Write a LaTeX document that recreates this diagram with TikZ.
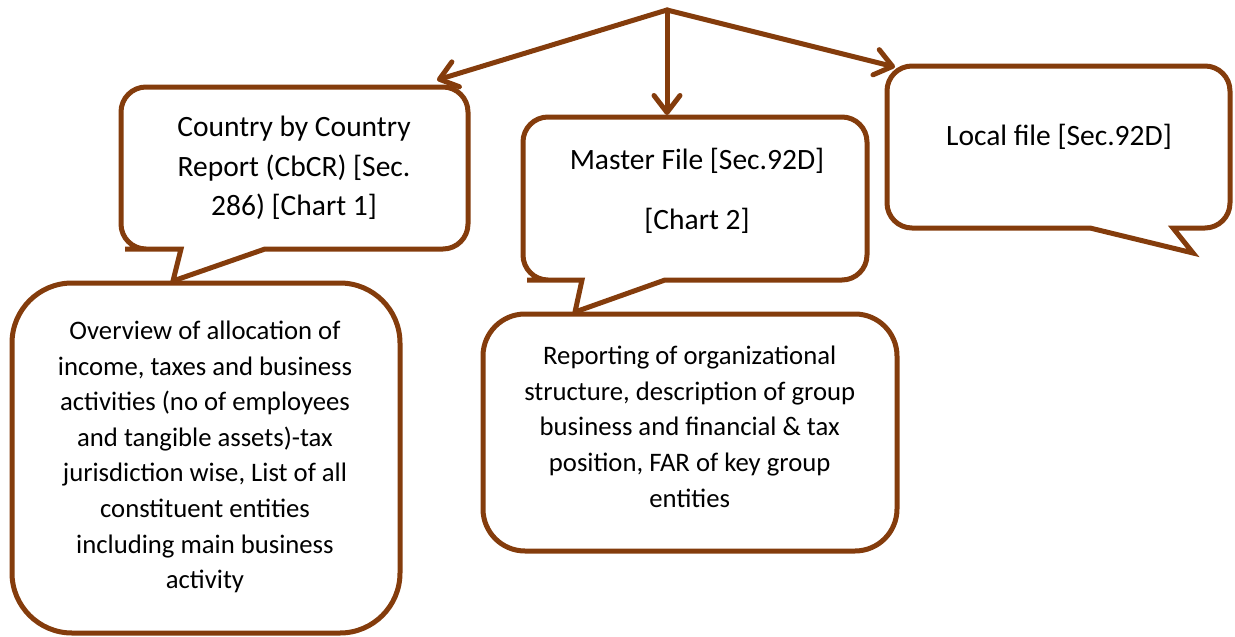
\documentclass[tikz,border=0pt]{standalone}
\usepackage{fontspec}
\setmainfont{Carlito}
\usetikzlibrary{arrows.meta}
\definecolor{brn}{RGB}{132,60,12}
\tikzset{
  shapeline/.style={draw=brn, line width=5pt, fill=white},
  conn/.style={draw=brn, line width=5pt, line cap=round, -{Straight Barb[length=17pt,width=26pt,round]}},
  bigtxt/.style={align=center, anchor=base, font=\fontsize{29.5}{39.5}\selectfont, inner sep=0pt},
  smalltxt/.style={align=center, anchor=base, font=\fontsize{26.7}{35.6}\selectfont, inner sep=0pt}
}
\begin{document}
\begin{tikzpicture}[x=1pt,y=-1pt]
\useasboundingbox (0,0) rectangle (1235,637);
% bottom boxes
\draw[shapeline, rounded corners=60] (12,283) rectangle (400,633);
\draw[shapeline, rounded corners=42] (483,314) rectangle (897,551);
% callout CbCR
\draw[shapeline] (150,249) -- (181,249) -- (173,281) -- (265,249) -- (290,249)
  [rounded corners=25] -- (468,249) -- (468,87) -- (121,87) -- (121,249) -- cycle;
% callout Master
\draw[shapeline] (552,280) -- (582,280) -- (575,312) -- (665,280) -- (690,280)
  [rounded corners=25] -- (867,280) -- (867,117) -- (523,117) -- (523,280) -- cycle;
% callout Local
\draw[shapeline] (1060,228) -- (1090,228) -- (1193,253) -- (1173,228) -- (1180,228)
  [rounded corners=25] -- (1230,228) -- (1230,66) -- (887,66) -- (887,228) -- cycle;
% texts (base anchor = baseline of the last line)
\node[bigtxt] (cbcr) at (294,215.8) {Country by Country\\Report (CbCR) [Sec.\\286) [Chart 1]};
\node[bigtxt] (master) at (697,229) {Master File [Sec.92D]\\[20.5pt]{}[Chart 2]};
\node[bigtxt] (local) at (1059,145) {Local file [Sec.92D]};
\node[smalltxt] (overview) at (205,588.7) {Overview of allocation of\\income, taxes and business\\activities (no of employees\\and tangible assets)-tax\\jurisdiction wise, List of all\\constituent entities\\including main business\\activity};
\node[smalltxt] (reporting) at (689.7,507) {Reporting of organizational\\structure, description of group\\business and financial \& tax\\position, FAR of key group\\entities};
% arrows
\coordinate (src) at (667,10);
\coordinate (tipL) at (437,80);
\coordinate (tipM) at (667,115);
\coordinate (tipR) at (895,67);
\draw[conn] (src) -- (tipL);
\draw[conn] (src) -- (tipM);
\draw[conn] (src) -- (tipR);
\end{tikzpicture}
\end{document}
